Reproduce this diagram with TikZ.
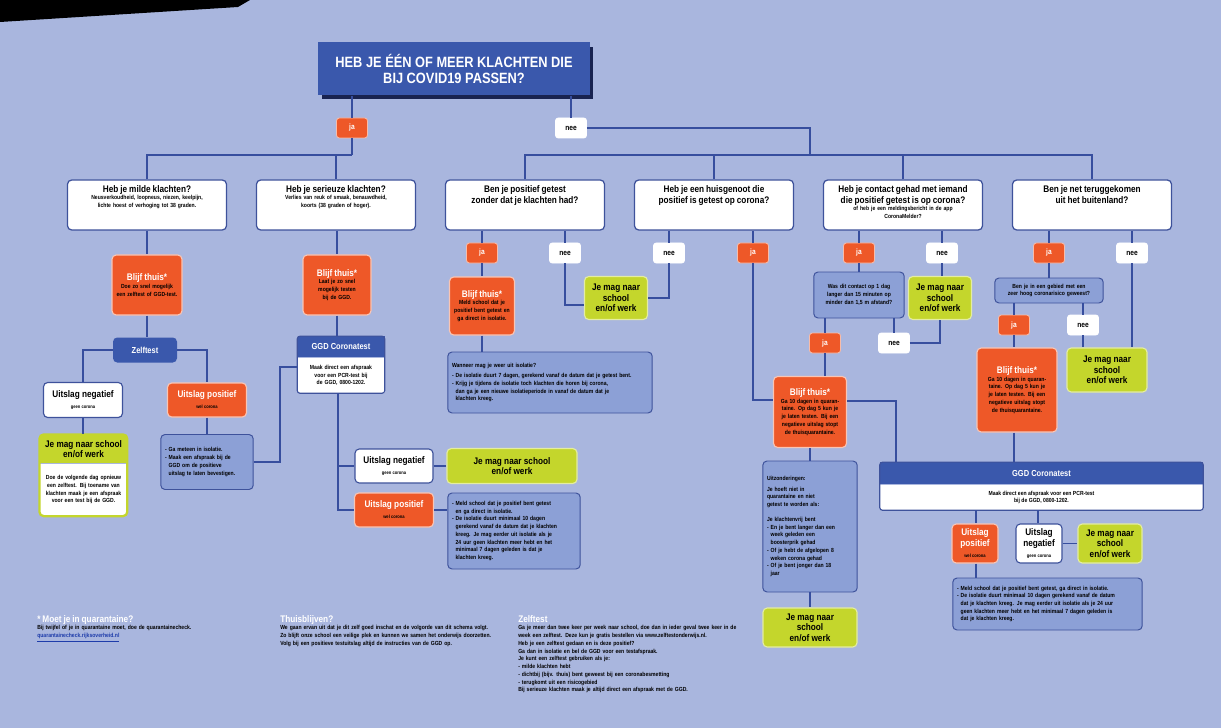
\documentclass[tikz,border=0pt]{standalone}
\usepackage{fontspec}
\setmainfont{Liberation Sans}[FakeStretch=0.86]
\usepackage{tikz}
\usetikzlibrary{positioning}
\definecolor{achter}{RGB}{169,182,222}
\definecolor{titelblauw}{RGB}{58,88,172}
\definecolor{schaduw}{RGB}{25,35,80}
\definecolor{randblauw}{RGB}{62,82,155}
\definecolor{lijnblauw}{RGB}{55,78,158}
\definecolor{oranje}{RGB}{238,88,40}
\definecolor{limoen}{RGB}{196,214,44}
\definecolor{noot}{RGB}{140,160,214}
\definecolor{linkblauw}{RGB}{30,60,170}
\newlength{\pxl}\setlength{\pxl}{0.025cm}
\newcommand{\kopf}{\bfseries\fontsize{6.8}{7.8}\selectfont}
\newcommand{\kleinf}{\bfseries\fontsize{4.2}{5.5}\selectfont}
\newcommand{\minif}{\bfseries\fontsize{3.4}{4}\selectfont}
\newcommand{\grootf}{\bfseries\fontsize{6.8}{7.4}\selectfont}
\tikzset{
  lijn/.style={draw=lijnblauw, line width=1pt},
  titelbox/.style={fill=titelblauw, text=white, font=\bfseries\fontsize{10.6}{11.4}\selectfont, align=center, minimum width=272\pxl, minimum height=53\pxl},
  qbox/.style={draw=randblauw, line width=0.9pt, fill=white, rounded corners=3pt, minimum width=159\pxl, minimum height=50\pxl},
  qtekst/.style={align=center, text width=150\pxl, inner sep=0pt, font=\kleinf},
  jabox/.style={fill=oranje, draw=white!60!oranje, line width=0.6pt, rounded corners=2pt, minimum width=31\pxl, minimum height=20\pxl, text=white, font=\bfseries\fontsize{5.5}{6}\selectfont, inner sep=0pt},
  neebox/.style={jabox, fill=white, draw=white, text=black},
  blijfbox/.style={fill=oranje, draw=white!65!oranje, line width=0.8pt, rounded corners=3pt, align=center, font=\kleinf, inner sep=2pt},
  groenbox/.style={fill=limoen, draw=white!55!limoen, line width=0.8pt, rounded corners=3pt, align=center, font=\grootf, inner sep=1pt},
  uitslagbox/.style={draw=randblauw, line width=0.8pt, fill=white, rounded corners=3pt, align=center, font=\kopf, inner sep=1pt},
  positiefbox/.style={uitslagbox, fill=oranje, draw=white!65!oranje, text=white},
  nootbox/.style={fill=noot, draw=randblauw, line width=0.7pt, rounded corners=3pt, align=left, font=\kleinf, inner sep=3pt},
  kopbox/.style={fill=titelblauw, text=white, font=\bfseries\fontsize{6.2}{7}\selectfont, inner sep=0pt},
  tekstbox/.style={fill=white, align=center, font=\kleinf, inner sep=1pt},
  voettekst/.style={anchor=north west, align=left, font=\kleinf, inner sep=0pt}
}
\begin{document}
\begin{tikzpicture}[x=0.025cm, y=-0.025cm]
\fill[achter] (0,0) rectangle (1221,728);
\useasboundingbox (0,0) rectangle (1221,728);
\fill[black] (0,0) -- (250,0) -- (238,7) -- (0,22) -- cycle;

% hoofdvraag
\fill[schaduw] (322,47) rectangle (593,99);
\node[titelbox] (titel) at (454,69) {HEB JE ÉÉN OF MEER KLACHTEN DIE\\BIJ COVID19 PASSEN?};
\node[jabox] (ja0) at (352,128) {ja};
\node[neebox] (nee0) at (571,128) {nee};
\coordinate (bus1) at (352,155);
\coordinate (bocht) at (810,128);
\coordinate (bus2) at (810,155);

% vragen
\node[qbox] (q1) at (147,205) {};
\node[qtekst, below=4pt of q1.north] (q1t) {{\kopf Heb je milde klachten?\par}Neusverkoudheid, loopneus, niezen, keelpijn, lichte hoest of verhoging tot 38 graden.};
\node[qbox] (q2) at (336,205) {};
\node[qtekst, below=4pt of q2.north] (q2t) {{\kopf Heb je serieuze klachten?\par}Verlies van reuk of smaak, benauwdheid,\\koorts (38 graden of hoger).};
\node[qbox] (q3) at (525,205) {};
\node[qtekst, below=4pt of q3.north] (q3t) {{\kopf Ben je positief getest\\zonder dat je klachten had?\par}};
\node[qbox] (q4) at (714,205) {};
\node[qtekst, below=4pt of q4.north] (q4t) {{\kopf Heb je een huisgenoot die\\positief is getest op corona?\par}};
\node[qbox] (q5) at (903,205) {};
\node[qtekst, below=4pt of q5.north] (q5t) {{\kopf Heb je contact gehad met iemand\\die positief getest is op corona?\par}of heb je een meldingsbericht in de app\\CoronaMelder?};
\node[qbox] (q6) at (1092,205) {};
\node[qtekst, below=4pt of q6.north] (q6t) {{\kopf Ben je net teruggekomen\\uit het buitenland?\par}};

% milde klachten
\node[blijfbox, minimum width=70\pxl, minimum height=60\pxl, text width=62\pxl] (bt1) at (147,285) {{\color{white}\kopf Blijf thuis*\par}Doe zo snel mogelijk een zelftest of GGD-test.};
\node[fill=titelblauw, text=white, rounded corners=3pt, font=\bfseries\fontsize{6.2}{7}\selectfont, minimum width=64\pxl, minimum height=25\pxl] (zelf) at (145,350) {Zelftest};
\node[uitslagbox, minimum width=79\pxl, minimum height=35\pxl] (neg1) at (83,400) {Uitslag negatief\\{\minif geen corona}};
\node[positiefbox, minimum width=79\pxl, minimum height=34\pxl] (pos1) at (207,400) {Uitslag positief\\{\minif\color{black} wel corona}};
\node[groenbox, sharp corners, minimum width=87\pxl, minimum height=28\pxl, draw=none] (groen1kop) at (83.5,449) {Je mag naar school\\en/of werk};
\node[tekstbox, below=0pt of groen1kop, minimum width=87\pxl, minimum height=52\pxl, text width=78\pxl] (groen1tekst) {Doe de volgende dag opnieuw een zelftest. Bij toename van klachten maak je een afspraak voor een test bij de GGD.};
\draw[limoen, line width=1.6pt, rounded corners=3pt] (groen1kop.north west) rectangle (groen1tekst.south east);
\node[nootbox, minimum width=91\pxl, minimum height=55\pxl, text width=84\pxl] (noot1) at (207,462) {- Ga meteen in isolatie.\\- Maak een afspraak bij de\\\phantom{- }GGD om de positieve\\\phantom{- }uitslag te laten bevestigen.};

% serieuze klachten
\node[blijfbox, minimum width=68\pxl, minimum height=60\pxl, text width=56\pxl] (bt2) at (337,285) {{\color{white}\kopf Blijf thuis*\par}Laat je zo snel mogelijk testen bij de GGD.};
\node[tekstbox, minimum width=87\pxl, minimum height=35\pxl, text width=82\pxl] (ggd1tekst) at (341,375.5) {Maak direct een afspraak voor een PCR-test bij de GGD, 0800-1202.};
\node[kopbox, above=0pt of ggd1tekst, minimum width=87\pxl, minimum height=21\pxl] (ggd1kop) {GGD Coronatest};
\draw[randblauw, line width=0.8pt, rounded corners=2pt] (ggd1kop.north west) rectangle (ggd1tekst.south east);
\node[uitslagbox, minimum width=78\pxl, minimum height=34\pxl] (neg2) at (394,466) {Uitslag negatief\\{\minif geen corona}};
\node[positiefbox, minimum width=79\pxl, minimum height=34\pxl] (pos2) at (394,510) {Uitslag positief\\{\minif\color{black} wel corona}};
\node[groenbox, minimum width=130\pxl, minimum height=35\pxl] (groen2) at (512,466) {Je mag naar school\\en/of werk};
\node[nootbox, minimum width=132\pxl, minimum height=76\pxl, text width=124\pxl] (noot2) at (514,531) {- Meld school dat je positief bent getest\\\phantom{- }en ga direct in isolatie.\\- De isolatie duurt minimaal 10 dagen\\\phantom{- }gerekend vanaf de datum dat je klachten\\\phantom{- }kreeg. Je mag eerder uit isolatie als je\\\phantom{- }24 uur geen klachten meer hebt en het\\\phantom{- }minimaal 7 dagen geleden is dat je\\\phantom{- }klachten kreeg.};

% positief getest zonder klachten / huisgenoot
\node[jabox] (ja3) at (482,253) {ja};
\node[neebox] (nee3) at (565,253) {nee};
\node[neebox] (nee4) at (669,253) {nee};
\node[jabox] (ja4) at (753,253) {ja};
\node[blijfbox, minimum width=65\pxl, minimum height=58\pxl, text width=56\pxl] (bt3) at (482,306) {{\color{white}\kopf Blijf thuis*\par}Meld school dat je positief bent getest en ga direct in isolatie.};
\node[groenbox, minimum width=63\pxl, minimum height=43\pxl] (groen3) at (616,298) {Je mag naar\\school\\en/of werk};
\node[nootbox, minimum width=204\pxl, minimum height=61\pxl, text width=196\pxl] (noot3) at (550,382.5) {Wanneer mag je weer uit isolatie?\\[2pt]
- De isolatie duurt 7 dagen, gerekend vanaf de datum dat je getest bent.\\
- Krijg je tijdens de isolatie toch klachten die horen bij corona,\\\phantom{- }dan ga je een nieuwe isolatieperiode in vanaf de datum dat je\\\phantom{- }klachten kreeg.};

% contact met besmet persoon
\node[jabox] (ja5) at (859,253) {ja};
\node[neebox] (nee5) at (942,253) {nee};
\node[nootbox, align=center, minimum width=90\pxl, minimum height=46\pxl, text width=82\pxl] (contact) at (859,295) {Was dit contact op 1 dag langer dan 15 minuten op minder dan 1,5 m afstand?};
\node[jabox] (ja5b) at (825,343) {ja};
\node[neebox] (nee5b) at (894,343) {nee};
\node[groenbox, minimum width=63\pxl, minimum height=43\pxl] (groen5) at (940,298) {Je mag naar\\school\\en/of werk};
\node[blijfbox, minimum width=73\pxl, minimum height=71\pxl, text width=64\pxl] (bt4) at (810,412) {{\color{white}\kopf Blijf thuis*\par}Ga 10 dagen in quarantaine. Op dag 5 kun je je laten testen. Bij een negatieve uitslag stopt de thuisquarantaine.};
\node[nootbox, minimum width=94\pxl, minimum height=131\pxl, text width=86\pxl] (uitz) at (810,526.5) {Uitzonderingen:\\[2pt]Je hoeft niet in\\quarantaine en niet\\getest te worden als:\\[5pt]Je klachtenvrij bent\\- En je bent langer dan een\\\phantom{- }week geleden een\\\phantom{- }boosterprik gehad\\- Of je hebt de afgelopen 8\\\phantom{- }weken corona gehad\\- Of je bent jonger dan 18\\\phantom{- }jaar};
\node[groenbox, minimum width=94\pxl, minimum height=39\pxl] (groen4) at (810,627.5) {Je mag naar\\school\\en/of werk};

% buitenland
\node[jabox] (ja6) at (1049,253) {ja};
\node[neebox] (nee6) at (1132,253) {nee};
\node[nootbox, align=center, minimum width=108\pxl, minimum height=25\pxl, text width=100\pxl] (gebied) at (1049,290.5) {Ben je in een gebied met een\\zeer hoog coronarisico geweest?};
\node[jabox] (ja6b) at (1014,325) {ja};
\node[neebox] (nee6b) at (1083,325) {nee};
\node[blijfbox, minimum width=80\pxl, minimum height=84\pxl, text width=66\pxl] (bt6) at (1017,390) {{\color{white}\kopf Blijf thuis*\par}Ga 10 dagen in quarantaine. Op dag 5 kun je je laten testen. Bij een negatieve uitslag stopt de thuisquarantaine.};
\node[groenbox, minimum width=80\pxl, minimum height=44\pxl] (groen6) at (1107,370) {Je mag naar\\school\\en/of werk};

% GGD test rechts
\node[tekstbox, minimum width=323\pxl, minimum height=25\pxl] (ggd3tekst) at (1041.5,497.5) {Maak direct een afspraak voor een PCR-test\\bij de GGD, 0800-1202.};
\node[kopbox, above=0pt of ggd3tekst, minimum width=323\pxl, minimum height=22\pxl] (ggd3kop) {GGD Coronatest};
\draw[randblauw, line width=0.8pt, rounded corners=2pt] (ggd3kop.north west) rectangle (ggd3tekst.south east);
\node[positiefbox, minimum width=46\pxl, minimum height=39\pxl] (pos3) at (975,543.5) {Uitslag\\positief\\{\minif\color{black} wel corona}};
\node[uitslagbox, minimum width=46\pxl, minimum height=39\pxl] (neg3) at (1039,543.5) {Uitslag\\negatief\\{\minif geen corona}};
\node[groenbox, minimum width=64\pxl, minimum height=39\pxl] (groen7) at (1110,543.5) {Je mag naar\\school\\en/of werk};
\node[nootbox, minimum width=189\pxl, minimum height=52\pxl, text width=181\pxl] (noot4) at (1047.5,604) {- Meld school dat je positief bent getest, ga direct in isolatie.\\- De isolatie duurt minimaal 10 dagen gerekend vanaf de datum\\\phantom{- }dat je klachten kreeg. Je mag eerder uit isolatie als je 24 uur\\\phantom{- }geen klachten meer hebt en het minimaal 7 dagen geleden is\\\phantom{- }dat je klachten kreeg.};

% verbindingen
\draw[lijn] (titel.south -| ja0) -- (ja0.north);
\draw[lijn] (ja0.south) -- (bus1);
\draw[lijn] (q1.north) |- (bus1);
\draw[lijn] (q2.north) -- (q2.north |- bus1);
\draw[lijn] (titel.south -| nee0) -- (nee0.north);
\draw[lijn] (nee0.east) -- (bocht) -- (bus2);
\draw[lijn] (q3.north) |- (bus2) -| (q6.north);
\draw[lijn] (q4.north) -- (q4.north |- bus2);
\draw[lijn] (q5.north) -- (q5.north |- bus2);

\draw[lijn] (q1.south) -- (bt1.north);
\draw[lijn] (bt1.south) -- (bt1.south |- zelf.north);
\draw[lijn] (zelf.west) -| (neg1.north);
\draw[lijn] (zelf.east) -| (pos1.north);
\draw[lijn] (neg1.south) -- (neg1.south |- groen1kop.north);
\draw[lijn] (pos1.south) -- (noot1.north);
\coordinate (k1) at (280,367);
\draw[lijn] (noot1.east) -| (k1) -- (ggd1tekst.west |- k1);

\draw[lijn] (q2.south -| bt2) -- (bt2.north);
\draw[lijn] (bt2.south) -- (bt2.south |- ggd1kop.north);
\coordinate (k2) at (338,393);
\draw[lijn] (k2) |- (pos2.west);
\draw[lijn] (k2 |- neg2.west) -- (neg2.west);
\draw[lijn] (neg2.east) -- (groen2.west);
\draw[lijn] (pos2.east) -- (pos2.east -| noot2.west);

\draw[lijn] (ja3.north) -- (ja3.north |- q3.south);
\draw[lijn] (nee3.north) -- (nee3.north |- q3.south);
\draw[lijn] (nee4.north) -- (nee4.north |- q4.south);
\draw[lijn] (ja4.north) -- (ja4.north |- q4.south);
\draw[lijn] (ja3.south) -- (bt3.north);
\draw[lijn] (bt3.south) -- (bt3.south |- noot3.north);
\coordinate (k3) at (565,305);
\draw[lijn] (nee3.south) |- (groen3.west |- k3);
\draw[lijn] (nee4.south) |- (groen3.east);

\draw[lijn] (ja5.north) -- (ja5.north |- q5.south);
\draw[lijn] (nee5.north) -- (nee5.north |- q5.south);
\draw[lijn] (ja5.south) -- (ja5.south |- contact.north);
\draw[lijn] (nee5.south) -- (groen5.north -| nee5);
\draw[lijn] (ja5b.north) -- (ja5b.north |- contact.south);
\draw[lijn] (nee5b.north) -- (nee5b.north |- contact.south);
\draw[lijn] (nee5b.east) -| (groen5.south);
\draw[lijn] (ja5b.south) -- (ja5b.south |- bt4.north);
\coordinate (k4) at (753,400);
\draw[lijn] (ja4.south) |- (bt4.west |- k4);
\coordinate (k5) at (896,401);
\draw[lijn] (bt4.east |- k5) -| (ggd3kop.north -| k5);
\draw[lijn] (bt4.south) -- (uitz.north);
\draw[lijn] (uitz.south) -- (groen4.north);

\draw[lijn] (ja6.north) -- (ja6.north |- q6.south);
\draw[lijn] (nee6.north) -- (nee6.north |- q6.south);
\draw[lijn] (ja6.south) -- (gebied.north);
\draw[lijn] (ja6b.north) -- (ja6b.north |- gebied.south);
\draw[lijn] (nee6b.north) -- (nee6b.north |- gebied.south);
\draw[lijn] (ja6b.south) -- (ja6b.south |- bt6.north);
\draw[lijn] (nee6b.south) -- (nee6b.south |- groen6.north);
\draw[lijn] (nee6.south) -- (nee6.south |- groen6.north);
\draw[lijn] (bt6.south -| ja6b) -- (ja6b |- ggd3kop.north);

\coordinate (k6) at (976,510);
\draw[lijn] (k6) -- (k6 |- pos3.north);
\coordinate (k7) at (1038,510);
\draw[lijn] (k7) -- (k7 |- neg3.north);
\draw[lijn] (neg3.east) -- (groen7.west);
\draw[lijn] (pos3.south -| k6) -- (k6 |- noot4.north);

% voetnoten
\node[voettekst, text width=230\pxl] (voet1) at (37,615) {{\color{white}\kopf * Moet je in quarantaine?\par}Bij twijfel of je in quarantaine moet, doe de quarantainecheck.\\{\color{linkblauw}\underline{quarantainecheck.rijksoverheid.nl}}};
\node[voettekst, text width=232\pxl] (voet2) at (280,615) {{\color{white}\kopf Thuisblijven?\par}We gaan ervan uit dat je dit zelf goed inschat en de volgorde van dit schema volgt.\\Zo blijft onze school een veilige plek en kunnen we samen het onderwijs doorzetten.\\Volg bij een positieve testuitslag altijd de instructies van de GGD op.};
\node[voettekst, text width=240\pxl] (voet3) at (518,615) {{\color{white}\kopf Zelftest\par}Ga je meer dan twee keer per week naar school, doe dan in ieder geval twee keer in de\\week een zelftest. Deze kun je gratis bestellen via www.zelftestonderwijs.nl.\\Heb je een zelftest gedaan en is deze positief?\\Ga dan in isolatie en bel de GGD voor een testafspraak.\\Je kunt een zelftest gebruiken als je:\\- milde klachten hebt\\- dichtbij (bijv. thuis) bent geweest bij een coronabesmetting\\- terugkomt uit een risicogebied\\Bij serieuze klachten maak je altijd direct een afspraak met de GGD.};
\end{tikzpicture}
\end{document}
